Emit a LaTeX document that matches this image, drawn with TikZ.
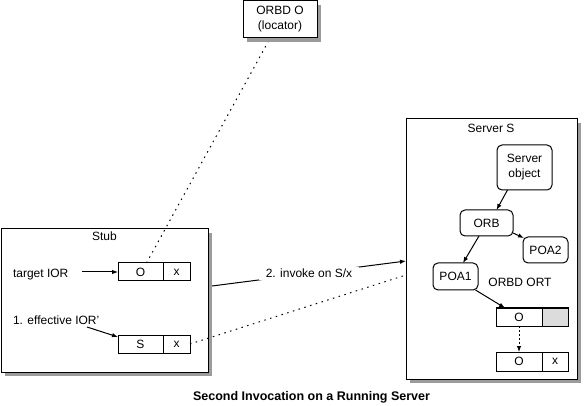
\documentclass[tikz,border=0pt]{standalone}
\usepackage{fontspec}
\setmainfont{Liberation Sans}
\usetikzlibrary{arrows.meta,shadows}
\definecolor{shade}{RGB}{155,155,155}
\definecolor{cellgrey}{RGB}{220,220,220}
\tikzset{
  every node/.style={font=\fontsize{12}{15}\selectfont, inner sep=0pt, outer sep=0pt},
  framed/.style={draw, fill=white, line width=1pt,
    drop shadow={shadow xshift=4pt, shadow yshift=-4pt, fill=shade, opacity=1}},
  cell/.style={draw, fill=white, line width=1pt, minimum height=18pt},
  rounded/.style={draw, fill=white, line width=1pt, rounded corners=5pt},
  link/.style={line width=1pt, -{Latex[length=6pt,width=4.5pt]}},
  sparse/.style={line width=1pt, dash pattern=on 1.5pt off 4.5pt},
  dense/.style={line width=1pt, dash pattern=on 2pt off 2pt, -{Latex[length=6pt,width=4.5pt]}},
}
\begin{document}
\begin{tikzpicture}[x=1pt, y=-1pt]
  \useasboundingbox (0,0) rectangle (584,406);

  % containers
  \node[framed, minimum width=74pt, minimum height=37pt, align=center] (orbd) at (280,19.5) {ORBD O\\(locator)};
  \node[framed, minimum width=207pt, minimum height=143pt] (stub) at (104.5,300.5) {};
  \node[framed, minimum width=171pt, minimum height=260pt] (server) at (491.5,249) {};
  \node (stublabel) at (104.5,236) {Stub};
  \node (serverlabel) at (491,128) {Server S};

  % stub contents
  \node[anchor=base west] (tgttext) at (13,277) {target IOR};
  \node[anchor=base west] (efftext) at (13,324) {1. effective IOR'};
  \node[cell, minimum width=45pt] (tgtO) at (140.5,272) {O};
  \node[cell, minimum width=27pt] (tgtX) at (176.5,272) {x};
  \node[cell, minimum width=45pt] (effS) at (140.5,344) {S};
  \node[cell, minimum width=27pt] (effX) at (176.5,344) {x};
  \coordinate (tgtfrom) at (82,272);
  \coordinate (efffrom) at (87,327);
  \draw[link] (tgtfrom) -- (tgtO.west);
  \draw[link] (efffrom) -- ([yshift=7pt]effS.west);

  % server contents
  \node[rounded, minimum width=55pt, minimum height=45pt, align=center] (sobj) at (524.5,167.5) {Server\\object};
  \node[rounded, minimum width=53pt, minimum height=26pt] (orb) at (486.5,223) {ORB};
  \node[rounded, minimum width=45pt, minimum height=26pt] (poa2) at (545.5,250) {POA2};
  \node[rounded, minimum width=45pt, minimum height=27pt] (poa1) at (455.5,276.5) {POA1};
  \node (orttext) at (520,282) {ORBD ORT};
  \node[cell, minimum width=46pt] (ortO) at (519,317) {O};
  \node[cell, minimum width=26pt, fill=cellgrey] (ortG) at (555,317) {};
  \node[cell, minimum width=46pt, minimum height=19pt] (lowO) at (519,361.5) {O};
  \node[cell, minimum width=26pt, minimum height=19pt] (lowX) at (555,361.5) {x};

  \draw[link] ([xshift=-17pt]sobj.south) -- ([xshift=10pt]orb.north);
  \draw[link] ([yshift=-10pt]orb.east) -- ([xshift=1pt,yshift=-1pt]poa2.north west);
  \draw[link] ([xshift=-7.5pt]orb.south) -- ([xshift=7.5pt]poa1.north);
  \draw[link] ([xshift=20pt]poa1.south) -- ([xshift=-14pt]ortO.north);
  \draw[dense] (ortO.south) -- (lowO.north);

  % connections between the parts
  \draw[sparse] ([xshift=6pt]tgtO.north) -- ([xshift=-12pt,yshift=-4pt]orbd.south);
  \draw[sparse] (effX.east) -- ([yshift=-26pt]server.west);
  \draw[link] ([xshift=4pt,yshift=14.5pt]stub.east) --
    node[fill=white, inner xsep=7pt, inner ysep=2pt] (invoke) {2. invoke on S/x}
    ([yshift=-12pt]server.west);

  % caption
  \node[font=\fontsize{12.5}{15}\selectfont\bfseries] (caption) at (311.5,397) {Second Invocation on a Running Server};
\end{tikzpicture}
\end{document}
